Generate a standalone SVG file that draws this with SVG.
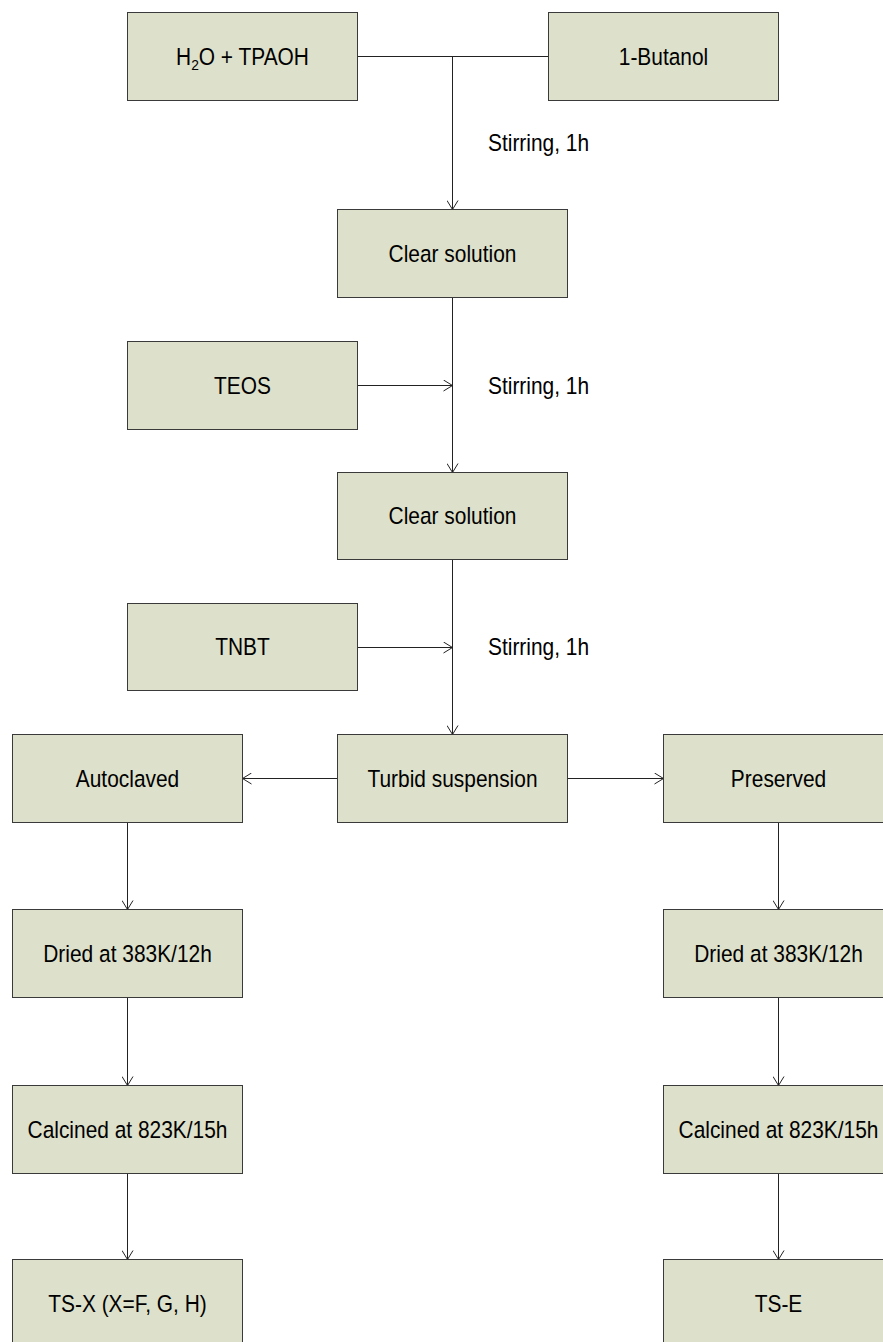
<svg xmlns="http://www.w3.org/2000/svg" width="883" height="1342" viewBox="0 0 883 1342">
<style>
.box{fill:#DDE0CA;stroke:#3a3a3a;stroke-width:1}
.t{font-family:"Liberation Sans",Arial,sans-serif;font-size:23.5px;fill:#000;text-anchor:middle}
.l{font-family:"Liberation Sans",Arial,sans-serif;font-size:23.5px;fill:#000}
.c{fill:none;stroke:#222;stroke-width:1}
</style>
<defs>
<marker id="ah" viewBox="0 0 10 12" refX="10" refY="6" markerWidth="10" markerHeight="12" markerUnits="userSpaceOnUse" orient="auto">
<path d="M1,0.5 L10,6 L1,11.5" fill="none" stroke="#222" stroke-width="1"/>
</marker>
</defs>
<rect width="883" height="1342" fill="#fff"/>
<g id="connectors">
<path class="c" d="M357.5,56.5 H548.5"/>
<path class="c" d="M452.5,56.5 V209.5" marker-end="url(#ah)"/>
<path class="c" d="M452.5,297.5 V472.5" marker-end="url(#ah)"/>
<path class="c" d="M357.5,385.5 H452.5" marker-end="url(#ah)"/>
<path class="c" d="M452.5,559.5 V734.5" marker-end="url(#ah)"/>
<path class="c" d="M357.5,647.5 H452.5" marker-end="url(#ah)"/>
<path class="c" d="M337.5,778.5 H242.5" marker-end="url(#ah)"/>
<path class="c" d="M567.5,778.5 H663.5" marker-end="url(#ah)"/>
<path class="c" d="M127.5,822.5 V909.5" marker-end="url(#ah)"/>
<path class="c" d="M127.5,997.5 V1085.5" marker-end="url(#ah)"/>
<path class="c" d="M127.5,1173.5 V1259.5" marker-end="url(#ah)"/>
<path class="c" d="M778.5,822.5 V909.5" marker-end="url(#ah)"/>
<path class="c" d="M778.5,997.5 V1085.5" marker-end="url(#ah)"/>
<path class="c" d="M778.5,1173.5 V1259.5" marker-end="url(#ah)"/>
<text class="l" transform="translate(488,151) scale(0.89,1)">Stirring, 1h</text>
<text class="l" transform="translate(488,393.5) scale(0.89,1)">Stirring, 1h</text>
<text class="l" transform="translate(488,655) scale(0.89,1)">Stirring, 1h</text>
</g>
<g id="n-h2o"><rect class="box" x="127.5" y="12.5" width="230" height="88"/><text class="t" transform="translate(242.5,64.5) scale(0.89,1)">H<tspan font-size="15.5" dy="5">2</tspan><tspan dy="-5">O + TPAOH</tspan></text></g>
<g id="n-butanol"><rect class="box" x="548.5" y="12.5" width="230" height="88"/><text class="t" transform="translate(663.5,64.5) scale(0.89,1)">1-Butanol</text></g>
<g id="n-clear1"><rect class="box" x="337.5" y="209.5" width="230" height="88"/><text class="t" transform="translate(452.5,261.5) scale(0.89,1)">Clear solution</text></g>
<g id="n-teos"><rect class="box" x="127.5" y="341.5" width="230" height="88"/><text class="t" transform="translate(242.5,393.5) scale(0.89,1)">TEOS</text></g>
<g id="n-clear2"><rect class="box" x="337.5" y="472.5" width="230" height="87"/><text class="t" transform="translate(452.5,524) scale(0.89,1)">Clear solution</text></g>
<g id="n-tnbt"><rect class="box" x="127.5" y="603.5" width="230" height="87"/><text class="t" transform="translate(242.5,655) scale(0.89,1)">TNBT</text></g>
<g id="n-turbid"><rect class="box" x="337.5" y="734.5" width="230" height="88"/><text class="t" transform="translate(452.5,786.5) scale(0.89,1)">Turbid suspension</text></g>
<g id="n-autoclaved"><rect class="box" x="12.5" y="734.5" width="230" height="88"/><text class="t" transform="translate(127.5,786.5) scale(0.89,1)">Autoclaved</text></g>
<g id="n-preserved"><rect class="box" x="663.5" y="734.5" width="230" height="88"/><text class="t" transform="translate(778.5,786.5) scale(0.89,1)">Preserved</text></g>
<g id="n-dried-l"><rect class="box" x="12.5" y="909.5" width="230" height="88"/><text class="t" transform="translate(127.5,961.5) scale(0.89,1)">Dried at 383K/12h</text></g>
<g id="n-dried-r"><rect class="box" x="663.5" y="909.5" width="230" height="88"/><text class="t" transform="translate(778.5,961.5) scale(0.89,1)">Dried at 383K/12h</text></g>
<g id="n-calc-l"><rect class="box" x="12.5" y="1085.5" width="230" height="88"/><text class="t" transform="translate(127.5,1137.5) scale(0.89,1)">Calcined at 823K/15h</text></g>
<g id="n-calc-r"><rect class="box" x="663.5" y="1085.5" width="230" height="88"/><text class="t" transform="translate(778.5,1137.5) scale(0.89,1)">Calcined at 823K/15h</text></g>
<g id="n-tsx"><rect class="box" x="12.5" y="1259.5" width="230" height="88"/><text class="t" transform="translate(127.5,1311.5) scale(0.89,1)">TS-X (X=F, G, H)</text></g>
<g id="n-tse"><rect class="box" x="663.5" y="1259.5" width="230" height="88"/><text class="t" transform="translate(778.5,1311.5) scale(0.89,1)">TS-E</text></g>
</svg>
